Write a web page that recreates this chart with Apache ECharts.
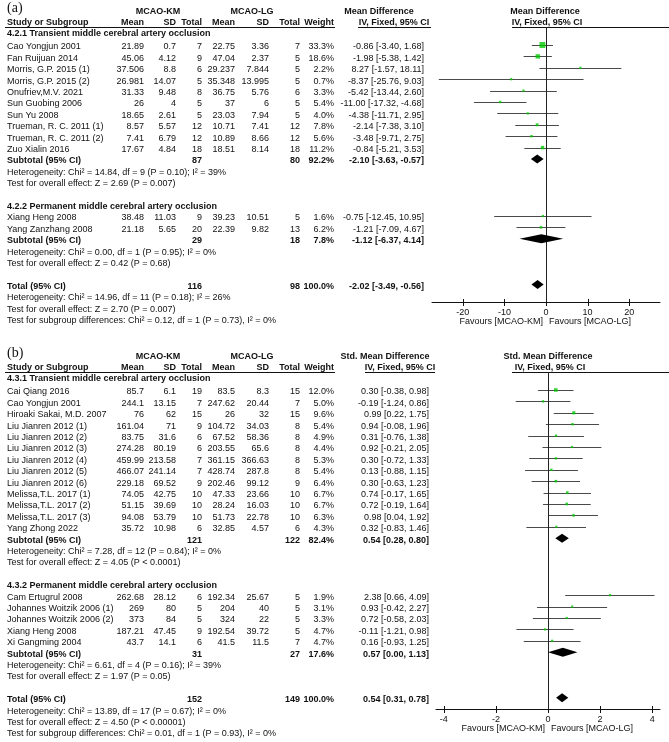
<!DOCTYPE html>
<html><head><meta charset="utf-8">
<script src="https://cdn.jsdelivr.net/npm/echarts@6/dist/echarts.min.js"></script>
<style>html,body{margin:0;padding:0;background:#fff}#c{width:669px;height:742px}</style>
</head><body><div id="c"></div>
<script>
// ================= Panel (a) data =================
const aGroupLabels = ['4.2.1 Transient middle cerebral artery occlusion', '4.2.2 Permanent middle cerebral artery occlusion'];
const aGroup   = [0,0,0,0,0,0,0,0,0,0,1,1];
const aNames   = ['Cao Yongjun 2001','Fan Ruijuan 2014','Morris, G.P. 2015 (1)','Morris, G.P. 2015 (2)','Onufriev,M.V. 2021','Sun Guobing 2006','Sun Yu 2008','Trueman, R. C. 2011 (1)','Trueman, R. C. 2011 (2)','Zuo Xialin 2016','Xiang Heng 2008','Yang Zanzhang 2008'];
const aKmMean  = ['21.89','45.06','37.506','26.981','31.33','26','18.65','8.57','7.41','17.67','38.48','21.18'];
const aKmSD    = ['0.7','4.12','8.8','14.07','9.48','4','2.61','5.57','6.79','4.84','11.03','5.65'];
const aKmN     = [7,9,6,5,8,5,5,12,12,18,9,20];
const aLgMean  = ['22.75','47.04','29.237','35.348','36.75','37','23.03','10.71','10.89','18.51','39.23','22.39'];
const aLgSD    = ['3.36','2.37','7.844','13.995','5.76','6','7.94','7.41','8.66','8.14','10.51','9.82'];
const aLgN     = [7,5,5,5,6,5,5,12,12,18,5,13];
const aWeight  = [33.3,18.6,2.2,0.7,3.3,5.4,4.0,7.8,5.6,11.2,1.6,6.2];
const aEst     = [-0.86,-1.98,8.27,-8.37,-5.42,-11.00,-4.38,-2.14,-3.48,-0.84,-0.75,-1.21];
const aLo      = [-3.40,-5.38,-1.57,-25.76,-13.44,-17.32,-11.71,-7.38,-9.71,-5.21,-12.45,-7.09];
const aHi      = [1.68,1.42,18.11,9.03,2.60,-4.68,2.95,3.10,2.75,3.53,10.95,4.67];
const aSubKmN  = [87,29];
const aSubLgN  = [80,18];
const aSubW    = [92.2,7.8];
const aSubEst  = [-2.10,-1.12];
const aSubLo   = [-3.63,-6.37];
const aSubHi   = [-0.57,4.14];
const aSubHet  = ['Chi² = 14.84, df = 9 (P = 0.10); I² = 39%','Chi² = 0.00, df = 1 (P = 0.95); I² = 0%'];
const aSubZ    = ['Z = 2.69 (P = 0.007)','Z = 0.42 (P = 0.68)'];
const aTotal   = {kmN:116, lgN:98, w:100.0, est:-2.02, lo:-3.49, hi:-0.56};
const aTotHet  = 'Chi² = 14.96, df = 11 (P = 0.18); I² = 26%';
const aTotZ    = 'Z = 2.70 (P = 0.007)';
const aDiff    = 'Chi² = 0.12, df = 1 (P = 0.73), I² = 0%';
const aTicks   = [-20,-10,0,10,20];

// ================= Panel (b) data =================
const bGroupLabels = ['4.3.1 Transient middle cerebral artery occlusion', '4.3.2 Permanent middle cerebral artery occlusion'];
const bGroup   = [0,0,0,0,0,0,0,0,0,0,0,0,0,1,1,1,1,1];
const bNames   = ['Cai Qiang 2016','Cao Yongjun 2001','Hiroaki Sakai, M.D. 2007','Liu Jianren 2012 (1)','Liu Jianren 2012 (2)','Liu Jianren 2012 (3)','Liu Jianren 2012 (4)','Liu Jianren 2012 (5)','Liu Jianren 2012 (6)','Melissa,T.L. 2017 (1)','Melissa,T.L. 2017 (2)','Melissa,T.L. 2017 (3)','Yang Zhong 2022','Cam Ertugrul 2008','Johannes Woitzik 2006 (1)','Johannes Woitzik 2006 (2)','Xiang Heng 2008','Xi Gangming 2004'];
const bKmMean  = ['85.7','244.1','76','161.04','83.75','274.28','459.99','466.07','229.18','74.05','51.15','94.08','35.72','262.68','269','373','187.21','43.7'];
const bKmSD    = ['6.1','13.15','62','71','31.6','80.19','213.58','241.14','69.52','42.75','39.69','53.79','10.98','28.12','80','84','47.45','14.1'];
const bKmN     = [19,7,15,9,6,6,7,7,9,10,10,10,6,6,5,5,9,6];
const bLgMean  = ['83.5','247.62','26','104.72','67.52','203.55','361.15','428.74','202.46','47.33','28.24','51.73','32.85','192.34','204','324','192.54','41.5'];
const bLgSD    = ['8.3','20.44','32','34.03','58.36','65.6','366.63','287.8','99.12','23.66','16.03','22.78','4.57','25.67','40','22','39.72','11.5'];
const bLgN     = [15,7,15,8,8,8,8,8,9,10,10,10,6,5,5,5,5,7];
const bWeight  = [12.0,5.0,9.6,5.4,4.9,4.4,5.3,5.4,6.4,6.7,6.7,6.3,4.3,1.9,3.1,3.3,4.7,4.7];
const bEst     = [0.30,-0.19,0.99,0.94,0.31,0.92,0.30,0.13,0.30,0.74,0.72,0.98,0.32,2.38,0.93,0.72,-0.11,0.16];
const bLo      = [-0.38,-1.24,0.22,-0.08,-0.76,-0.21,-0.72,-0.88,-0.63,-0.17,-0.19,0.04,-0.83,0.66,-0.42,-0.58,-1.21,-0.93];
const bHi      = [0.98,0.86,1.75,1.96,1.38,2.05,1.33,1.15,1.23,1.65,1.64,1.92,1.46,4.09,2.27,2.03,0.98,1.25];
const bSubKmN  = [121,31];
const bSubLgN  = [122,27];
const bSubW    = [82.4,17.6];
const bSubEst  = [0.54,0.57];
const bSubLo   = [0.28,0.00];
const bSubHi   = [0.80,1.13];
const bSubHet  = ['Chi² = 7.28, df = 12 (P = 0.84); I² = 0%','Chi² = 6.61, df = 4 (P = 0.16); I² = 39%'];
const bSubZ    = ['Z = 4.05 (P < 0.0001)','Z = 1.97 (P = 0.05)'];
const bTotal   = {kmN:152, lgN:149, w:100.0, est:0.54, lo:0.31, hi:0.78};
const bTotHet  = 'Chi² = 13.89, df = 17 (P = 0.67); I² = 0%';
const bTotZ    = 'Z = 4.50 (P < 0.00001)';
const bDiff    = 'Chi² = 0.01, df = 1 (P = 0.93), I² = 0%';
const bTicks   = [-4,-2,0,2,4];

// ================= layout =================
const FONT = '"Liberation Sans", Arial, sans-serif';
const FS = 9;
const TXT = '#111';
const PITCH = 11.4;
const LA = {label:'(a)', effect:'Mean Difference', row0:47, markShift:-2, tableTop:0, tableBottom:345,
  plotTop:27, axisY:302, plotLeft:432, plotRight:660, xMin:-27.4, xMax:27.4, ciRight:424,
  effHeadX:379, ivHeadX:394, ivUnder:[358,431], plotHeadX:545, plotIvX:547};
const LB = {label:'(b)', effect:'Std. Mean Difference', row0:392, markShift:-2, tableTop:345, tableBottom:742,
  plotTop:372, axisY:709, plotLeft:436, plotRight:660, xMin:-4.3, xMax:4.3, ciRight:429,
  effHeadX:385, ivHeadX:400, ivUnder:[365,435], plotHeadX:548, plotIvX:550};
const COL = {mean1:144, sd1:176, n1:202, mean2:235, sd2:269, n2:300, w:334, km:158, lg:252};

const fmtCI = (e,l,h) => e.toFixed(2) + ' [' + l.toFixed(2) + ', ' + h.toFixed(2) + ']';

const option = {animation:false, grid:[], xAxis:[], yAxis:[], series:[]};

function addPanel(P, L) {
  const gi = option.grid.length;
  // table grid (pixel-like x, row-index y)
  option.grid.push({left:0, width:669, top:L.tableTop, height:L.tableBottom-L.tableTop});
  option.xAxis.push({gridIndex:gi, type:'value', min:0, max:669, show:false});
  option.yAxis.push({gridIndex:gi, type:'value', inverse:true, show:false,
    min:(L.tableTop-L.row0)/PITCH, max:(L.tableBottom-L.row0)/PITCH});
  // forest grid
  const fi = gi + 1;
  const mark0 = L.row0 + L.markShift;
  const yMin = (L.plotTop-mark0)/PITCH, yMax = (L.axisY-mark0)/PITCH;
  option.grid.push({left:L.plotLeft, width:L.plotRight-L.plotLeft, top:L.plotTop, height:L.axisY-L.plotTop});
  option.xAxis.push({gridIndex:fi, type:'value', min:L.xMin, max:L.xMax,
    axisLine:{show:true, onZero:false, lineStyle:{color:'#111', width:1}},
    axisTick:{show:false},
    axisLabel:{customValues:P.ticks, fontSize:FS, fontFamily:FONT, color:TXT, margin:6},
    splitLine:{show:false}});
  option.yAxis.push({gridIndex:fi, type:'value', inverse:true, show:false, min:yMin, max:yMax});

  const texts = [];
  const lines = [];
  const px = dy => dy / PITCH; // pixel offset from row0 -> row units
  const T = (x, r, t, a, b, f) => texts.push({x, r, t, a:a||'left', b:!!b, f});
  // header
  T(7, px(-39), L.label, 'left', false, '14px "Liberation Serif", "Times New Roman", serif');
  T(COL.km, px(-35), 'MCAO-KM', 'center', true);
  T(COL.lg, px(-35), 'MCAO-LG', 'center', true);
  T(L.effHeadX, px(-35), L.effect, 'center', true);
  T(L.plotHeadX, px(-35), L.effect, 'center', true);
  const hr = px(-24);
  T(7, hr, 'Study or Subgroup', 'left', true);
  T(COL.mean1, hr, 'Mean', 'right', true); T(COL.sd1, hr, 'SD', 'right', true); T(COL.n1, hr, 'Total', 'right', true);
  T(COL.mean2, hr, 'Mean', 'right', true); T(COL.sd2, hr, 'SD', 'right', true); T(COL.n2, hr, 'Total', 'right', true);
  T(COL.w, hr, 'Weight', 'right', true);
  T(L.ivHeadX, hr, 'IV, Fixed, 95% CI', 'center', true);
  T(L.plotIvX, hr, 'IV, Fixed, 95% CI', 'center', true);
  const ur = px(-20);
  lines.push([5, 335, ur], [L.ivUnder[0], L.ivUnder[1], ur], [512, 669, ur]);

  const ciData = [], sqData = [], diaData = [];
  let r = 0;
  for (let g = 0; g < P.groupLabels.length; g++) {
    const headR = g === 0 ? px(-13) : r;
    if (g > 0) r++;
    T(7, headR, P.groupLabels[g], 'left', true);
    for (let i = 0; i < P.names.length; i++) {
      if (P.group[i] !== g) continue;
      T(7, r, P.names[i]);
      T(COL.mean1, r, P.kmMean[i], 'right'); T(COL.sd1, r, P.kmSD[i], 'right'); T(COL.n1, r, String(P.kmN[i]), 'right');
      T(COL.mean2, r, P.lgMean[i], 'right'); T(COL.sd2, r, P.lgSD[i], 'right'); T(COL.n2, r, String(P.lgN[i]), 'right');
      T(COL.w, r, P.weight[i].toFixed(1) + '%', 'right');
      T(L.ciRight, r, fmtCI(P.est[i], P.lo[i], P.hi[i]), 'right');
      ciData.push([P.lo[i], P.hi[i], r]);
      sqData.push([P.est[i], r, P.weight[i]]);
      r++;
    }
    T(7, r, 'Subtotal (95% CI)', 'left', true);
    T(COL.n1, r, String(P.subKmN[g]), 'right', true);
    T(COL.n2, r, String(P.subLgN[g]), 'right', true);
    T(COL.w, r, P.subW[g].toFixed(1) + '%', 'right', true);
    T(L.ciRight, r, fmtCI(P.subEst[g], P.subLo[g], P.subHi[g]), 'right', true);
    diaData.push([P.subLo[g], P.subEst[g], P.subHi[g], r]);
    T(7, r+1, 'Heterogeneity: ' + P.subHet[g]);
    T(7, r+2, 'Test for overall effect: ' + P.subZ[g]);
    r += 4;
  }
  T(7, r, 'Total (95% CI)', 'left', true);
  T(COL.n1, r, String(P.total.kmN), 'right', true);
  T(COL.n2, r, String(P.total.lgN), 'right', true);
  T(COL.w, r, P.total.w.toFixed(1) + '%', 'right', true);
  T(L.ciRight, r, fmtCI(P.total.est, P.total.lo, P.total.hi), 'right', true);
  diaData.push([P.total.lo, P.total.est, P.total.hi, r]);
  T(7, r+1, 'Heterogeneity: ' + P.totHet);
  T(7, r+2, 'Test for overall effect: ' + P.totZ);
  T(7, r+3, 'Test for subgroup differences: ' + P.diff);
  // favours labels below the axis
  const zeroPx = L.plotLeft + (0 - L.xMin) / (L.xMax - L.xMin) * (L.plotRight - L.plotLeft);
  const favR = (L.axisY + 20 - L.row0) / PITCH;
  T(zeroPx - 3, favR, 'Favours [MCAO-KM]', 'right');
  T(zeroPx + 3, favR, 'Favours [MCAO-LG]', 'left');

  // table text series
  option.series.push({type:'custom', xAxisIndex:gi, yAxisIndex:gi, silent:true, clip:false,
    data: texts.map((t, k) => [t.x, t.r, k]),
    renderItem: (params, api) => {
      const t = texts[api.value(2)];
      const p = api.coord([api.value(0), api.value(1)]);
      return {type:'text', x:p[0], y:p[1], style:{text:t.t, fill:TXT,
        font: t.f || ((t.b ? 'bold ' : '') + FS + 'px ' + FONT),
        align:t.a, verticalAlign:'middle', textAlign:t.a, textVerticalAlign:'middle'}};
    }});
  // header rules
  option.series.push({type:'custom', xAxisIndex:gi, yAxisIndex:gi, silent:true, clip:false,
    data: lines, encode:{x:[0,1], y:2},
    renderItem: (params, api) => {
      const a = api.coord([api.value(0), api.value(2)]);
      const b = api.coord([api.value(1), api.value(2)]);
      const y = Math.round(a[1]) + 0.5;
      return {type:'line', shape:{x1:a[0], y1:y, x2:b[0], y2:y}, style:{stroke:'#111', lineWidth:1}};
    }});
  // axis tick crosses (through the axis line)
  option.series.push({type:'custom', xAxisIndex:fi, yAxisIndex:fi, silent:true, clip:false,
    data: P.ticks.map(v => [v, yMax]),
    renderItem: (params, api) => {
      const p = api.coord([api.value(0), api.value(1)]);
      const x = Math.round(p[0]) + 0.5;
      return {type:'line', shape:{x1:x, y1:p[1]-3, x2:x, y2:p[1]+4}, style:{stroke:'#111', lineWidth:1}};
    }});
  // CI lines
  option.series.push({type:'custom', xAxisIndex:fi, yAxisIndex:fi, silent:true, clip:false,
    data: ciData, encode:{x:[0,1], y:2},
    renderItem: (params, api) => {
      const a = api.coord([api.value(0), api.value(2)]);
      const b = api.coord([api.value(1), api.value(2)]);
      const y = Math.round(a[1]) + 0.5;
      return {type:'line', shape:{x1:a[0], y1:y, x2:b[0], y2:y}, style:{stroke:'#4a4a4a', lineWidth:1}};
    }});
  // study squares + zero line
  option.series.push({type:'scatter', xAxisIndex:fi, yAxisIndex:fi, silent:true, z:5,
    data: sqData, symbol:'rect', symbolSize: v => Math.max(2.2, Math.sqrt(v[2]) * 1.02),
    itemStyle:{color:'#00c800'},
    markLine:{silent:true, symbol:'none', label:{show:false}, animation:false,
      lineStyle:{color:'#222', width:1, type:'solid'}, data:[{xAxis:0}]}});
  // pooled diamonds
  option.series.push({type:'custom', xAxisIndex:fi, yAxisIndex:fi, silent:true, clip:false, z:6,
    data: diaData, encode:{x:[0,1,2], y:3},
    renderItem: (params, api) => {
      const l = api.coord([api.value(0), api.value(3)]);
      const m = api.coord([api.value(1), api.value(3)]);
      const h = api.coord([api.value(2), api.value(3)]);
      const hh = 4.5;
      return {type:'polygon', shape:{points:[[l[0], l[1]], [m[0], m[1]-hh], [h[0], h[1]], [m[0], m[1]+hh]]},
        style:{fill:'#000'}};
    }});
}

addPanel({groupLabels:aGroupLabels, group:aGroup, names:aNames, kmMean:aKmMean, kmSD:aKmSD, kmN:aKmN,
  lgMean:aLgMean, lgSD:aLgSD, lgN:aLgN, weight:aWeight, est:aEst, lo:aLo, hi:aHi,
  subKmN:aSubKmN, subLgN:aSubLgN, subW:aSubW, subEst:aSubEst, subLo:aSubLo, subHi:aSubHi,
  subHet:aSubHet, subZ:aSubZ, total:aTotal, totHet:aTotHet, totZ:aTotZ, diff:aDiff, ticks:aTicks}, LA);
addPanel({groupLabels:bGroupLabels, group:bGroup, names:bNames, kmMean:bKmMean, kmSD:bKmSD, kmN:bKmN,
  lgMean:bLgMean, lgSD:bLgSD, lgN:bLgN, weight:bWeight, est:bEst, lo:bLo, hi:bHi,
  subKmN:bSubKmN, subLgN:bSubLgN, subW:bSubW, subEst:bSubEst, subLo:bSubLo, subHi:bSubHi,
  subHet:bSubHet, subZ:bSubZ, total:bTotal, totHet:bTotHet, totZ:bTotZ, diff:bDiff, ticks:bTicks}, LB);

const chart = echarts.init(document.getElementById('c'), null, {renderer:'canvas'});
chart.setOption(option);
</script>
</body></html>
